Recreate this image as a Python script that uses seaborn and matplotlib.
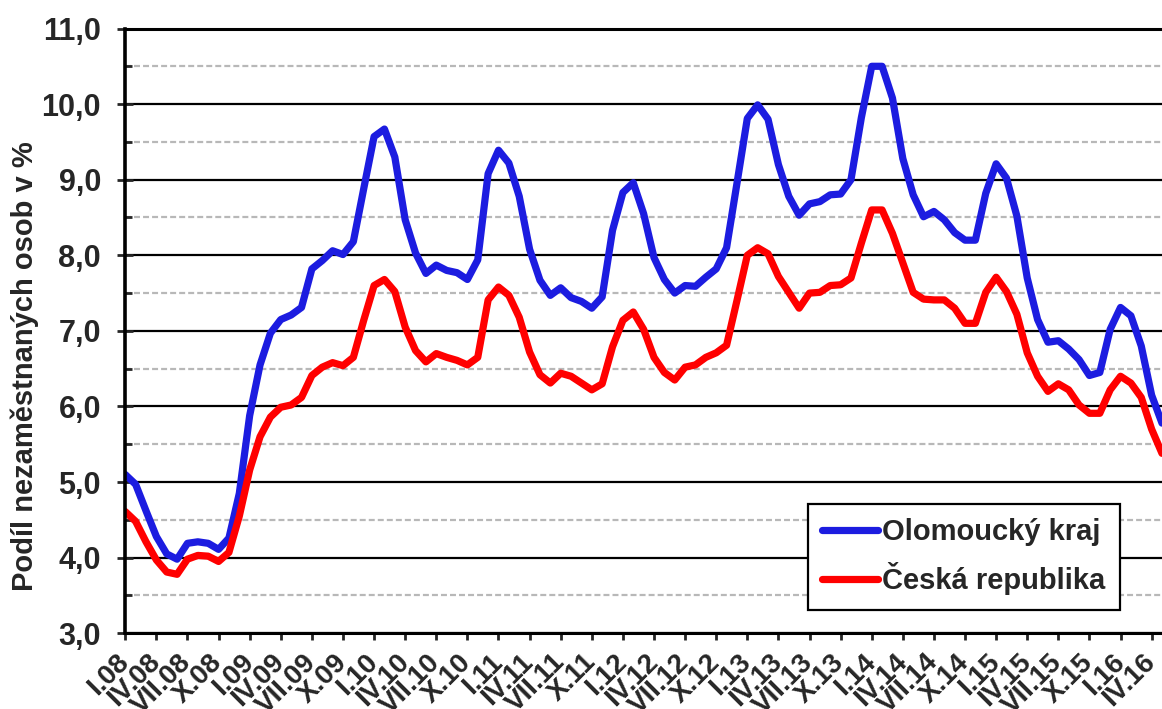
import matplotlib
matplotlib.use("Agg")
import matplotlib.pyplot as plt
import pandas as pd
import seaborn as sns
from matplotlib.ticker import MultipleLocator, FixedLocator, FuncFormatter
from matplotlib.lines import Line2D

# ---------------- data ----------------
olomoucky_kraj = [
    5.10, 4.97, 4.62, 4.28, 4.05, 3.98, 4.19, 4.21, 4.19, 4.11, 4.26, 4.85,
    5.88, 6.55, 6.97, 7.15, 7.21, 7.31, 7.82, 7.93, 8.06, 8.01, 8.18, 8.88,
    9.57, 9.67, 9.30, 8.47, 8.03, 7.76, 7.87, 7.80, 7.77, 7.68, 7.94, 9.08,
    9.39, 9.22, 8.78, 8.08, 7.67, 7.47, 7.57, 7.44, 7.39, 7.30, 7.45, 8.33,
    8.83, 8.96, 8.55, 7.97, 7.68, 7.50, 7.60, 7.59, 7.71, 7.82, 8.10, 8.95,
    9.81, 9.99, 9.80, 9.20, 8.78, 8.53, 8.68, 8.71, 8.80, 8.81, 9.00, 9.82,
    10.50, 10.50, 10.08, 9.28, 8.80, 8.51, 8.58, 8.47, 8.30, 8.20, 8.20, 8.82,
    9.21, 9.02, 8.52, 7.70, 7.15, 6.85, 6.87, 6.76, 6.62, 6.41, 6.45, 7.02,
    7.31, 7.20, 6.80, 6.15, 5.78,
]
ceska_republika = [
    4.61, 4.48, 4.21, 3.97, 3.81, 3.78, 3.98, 4.03, 4.02, 3.95, 4.07, 4.55,
    5.16, 5.60, 5.86, 5.99, 6.02, 6.12, 6.41, 6.52, 6.58, 6.54, 6.65, 7.14,
    7.60, 7.68, 7.52, 7.05, 6.74, 6.59, 6.70, 6.65, 6.61, 6.55, 6.65, 7.41,
    7.58, 7.47, 7.18, 6.72, 6.42, 6.31, 6.44, 6.40, 6.31, 6.22, 6.30, 6.79,
    7.14, 7.25, 7.02, 6.65, 6.45, 6.35, 6.52, 6.55, 6.65, 6.71, 6.81, 7.40,
    8.00, 8.10, 8.02, 7.72, 7.51, 7.30, 7.50, 7.51, 7.60, 7.61, 7.70, 8.16,
    8.60, 8.60, 8.29, 7.90, 7.51, 7.42, 7.41, 7.41, 7.30, 7.10, 7.10, 7.51,
    7.71, 7.52, 7.22, 6.71, 6.40, 6.20, 6.30, 6.22, 6.02, 5.91, 5.91, 6.22,
    6.40, 6.31, 6.12, 5.70, 5.38,
]
tick_labels = [
    "I.08", "IV.08", "VII.08", "X.08", "I.09", "IV.09", "VII.09", "X.09",
    "I.10", "IV.10", "VII.10", "X.10", "I.11", "IV.11", "VII.11", "X.11",
    "I.12", "IV.12", "VII.12", "X.12", "I.13", "IV.13", "VII.13", "X.13",
    "I.14", "IV.14", "VII.14", "X.14", "I.15", "IV.15", "VII.15", "X.15",
    "I.16", "IV.16",
]
series_names = ["Olomoucký kraj", "Česká republika"]
series_colors = ["#1c1ce0", "#ff0000"]
y_label = "Podíl nezaměstnaných osob v %"

# ---------------- style ----------------
sns.set_style("white")
plt.rcParams["font.family"] = ["Liberation Sans", "DejaVu Sans"]
plt.rcParams["font.weight"] = "bold"
plt.rcParams["lines.scale_dashes"] = False

n = len(olomoucky_kraj)
df = pd.DataFrame({
    "month": list(range(n)) * 2,
    "value": olomoucky_kraj + ceska_republika,
    "series": [series_names[0]] * n + [series_names[1]] * n,
})

fig = plt.figure(figsize=(11.62, 7.09), dpi=100)
ax = fig.add_axes([0.1078, 0.1068, 0.8922, 0.853])

ax.set_axisbelow(True)
ax.yaxis.set_major_locator(MultipleLocator(1))
ax.yaxis.set_minor_locator(MultipleLocator(0.5))
ax.grid(which="major", axis="y", color="black", lw=1.6)
ax.grid(which="minor", axis="y", color="#b8b8b8", lw=1.6, ls=(0, (4.3, 2.2)))
ax.grid(which="both", axis="x", visible=False)

sns.lineplot(data=df, x="month", y="value", hue="series",
             palette=dict(zip(series_names, series_colors)),
             linewidth=5.2, ax=ax, legend=False,
             solid_joinstyle="round", solid_capstyle="round")

ax.set_xlim(0, n - 1)
ax.set_ylim(3, 11)

ax.xaxis.set_major_locator(FixedLocator(list(range(0, 3 * len(tick_labels), 3))))
ax.set_xticklabels(tick_labels, rotation=45, ha="right", va="center",
                   rotation_mode="anchor", fontsize=20, fontweight="bold")
ax.yaxis.set_major_formatter(FuncFormatter(lambda v, p: f"{v:.1f}".replace(".", ",")))

ax.tick_params(axis="y", which="major", direction="inout", length=11, width=2,
               pad=12, labelsize=22, left=True)
ax.tick_params(axis="y", which="minor", direction="in", length=5, width=2, left=True)
ax.tick_params(axis="x", which="major", direction="out", length=5, width=2,
               pad=13, bottom=True)

ax.spines["right"].set_visible(False)
ax.spines["top"].set_visible(True)
ax.spines["top"].set_linewidth(2.2)
ax.spines["left"].set_linewidth(2.6)
ax.spines["bottom"].set_linewidth(2.2)
for s in ["left", "bottom", "top"]:
    ax.spines[s].set_color("black")

ax.set_xlabel("")
ax.set_ylabel(y_label, fontsize=21, fontweight="bold")
ax.yaxis.set_label_coords(-0.083, 0.442)

handles = [Line2D([], [], color=c, lw=5.2, solid_capstyle="round") for c in series_colors]
leg = ax.legend(handles, series_names, loc="lower right",
                bbox_to_anchor=(0.9595, 0.0385), frameon=True, fancybox=False,
                edgecolor="black", framealpha=1, prop={"size": 21, "weight": "bold"},
                handlelength=1.9, handletextpad=0.15, borderpad=0.5,
                labelspacing=0.55, borderaxespad=0)
leg.get_frame().set_linewidth(1.6)

fig.savefig("out.png", dpi=100)
